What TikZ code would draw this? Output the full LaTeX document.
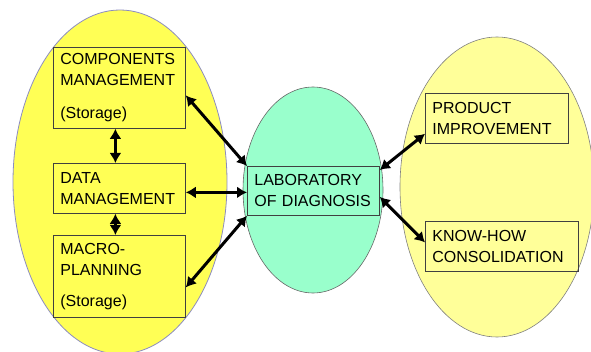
\documentclass[tikz,border=0pt]{standalone}
\usepackage{fontspec}
\setmainfont{Liberation Sans}
\usetikzlibrary{arrows.meta,positioning}

\definecolor{leftyellow}{HTML}{FFFF55}
\definecolor{rightyellow}{HTML}{FFFF99}
\definecolor{labgreen}{HTML}{99FFCC}
\definecolor{rimblue}{HTML}{8C8CC0}

\begin{document}
\begin{tikzpicture}[x=1pt,y=-1pt,
  box/.style={draw=black!75,line width=0.8pt,anchor=north west,align=left,
    inner xsep=7pt,inner ysep=0pt,font=\fontsize{16}{21}\selectfont},
  link/.style={line width=3pt,{Latex[length=10pt,width=12pt]}-{Latex[length=10pt,width=12pt]}}
]
\useasboundingbox (0,0) rectangle (591,352);
\clip (0,0) rectangle (591,352);

% --- Ellissi ---
\filldraw[fill=leftyellow,draw=rimblue,line width=0.8pt]
  (120,182) ellipse [x radius=107pt,y radius=172pt];
\filldraw[fill=labgreen,draw=black!60,line width=0.6pt]
  (313,190) ellipse [x radius=70pt,y radius=103pt];
\filldraw[fill=rightyellow,draw=black!50,line width=0.6pt]
  (497,187) ellipse [x radius=97pt,y radius=150pt];

% --- Riquadri ---
\node[box,text width=118pt,minimum height=81pt] (comp) at (53,47)
  {COMPONENTS\\MANAGEMENT\\[12pt](Storage)};
\node[box,text width=118pt,minimum height=50pt] (data) at (53,163)
  {DATA\\MANAGEMENT};
\node[box,text width=118pt,minimum height=82pt] (macro) at (53,235)
  {MACRO-\\PLANNING\\[10pt](Storage)};
\node[box,text width=118pt,minimum height=49pt] (lab) at (247,166)
  {LABORATORY\\OF DIAGNOSIS};
\node[box,text width=129pt,minimum height=50pt] (prod) at (425,93)
  {PRODUCT\\IMPROVEMENT};
\node[box,text width=139pt,minimum height=50pt] (know) at (425,221)
  {KNOW-HOW\\CONSOLIDATION};

% --- Frecce ---
\draw[link] ([yshift=-7.5pt]comp.east) -- (lab.north west);
\draw[link] ([yshift=-4pt]data.east) -- ([yshift=-4pt]data.east -| lab.west);
\draw[link] ([yshift=-11pt]macro.east) -- (lab.south west);
\draw[link] ([xshift=-4pt]comp.south) -- ([xshift=-4pt]data.north);
\draw[link] ([xshift=-4pt]data.south) -- ([xshift=-4pt]macro.north);
\draw[link] ([yshift=-4pt]lab.north east) -- ([yshift=10pt]prod.south west);
\draw[link] ([yshift=-6pt]lab.east) -- ([yshift=4pt]know.west);

\end{tikzpicture}
\end{document}
